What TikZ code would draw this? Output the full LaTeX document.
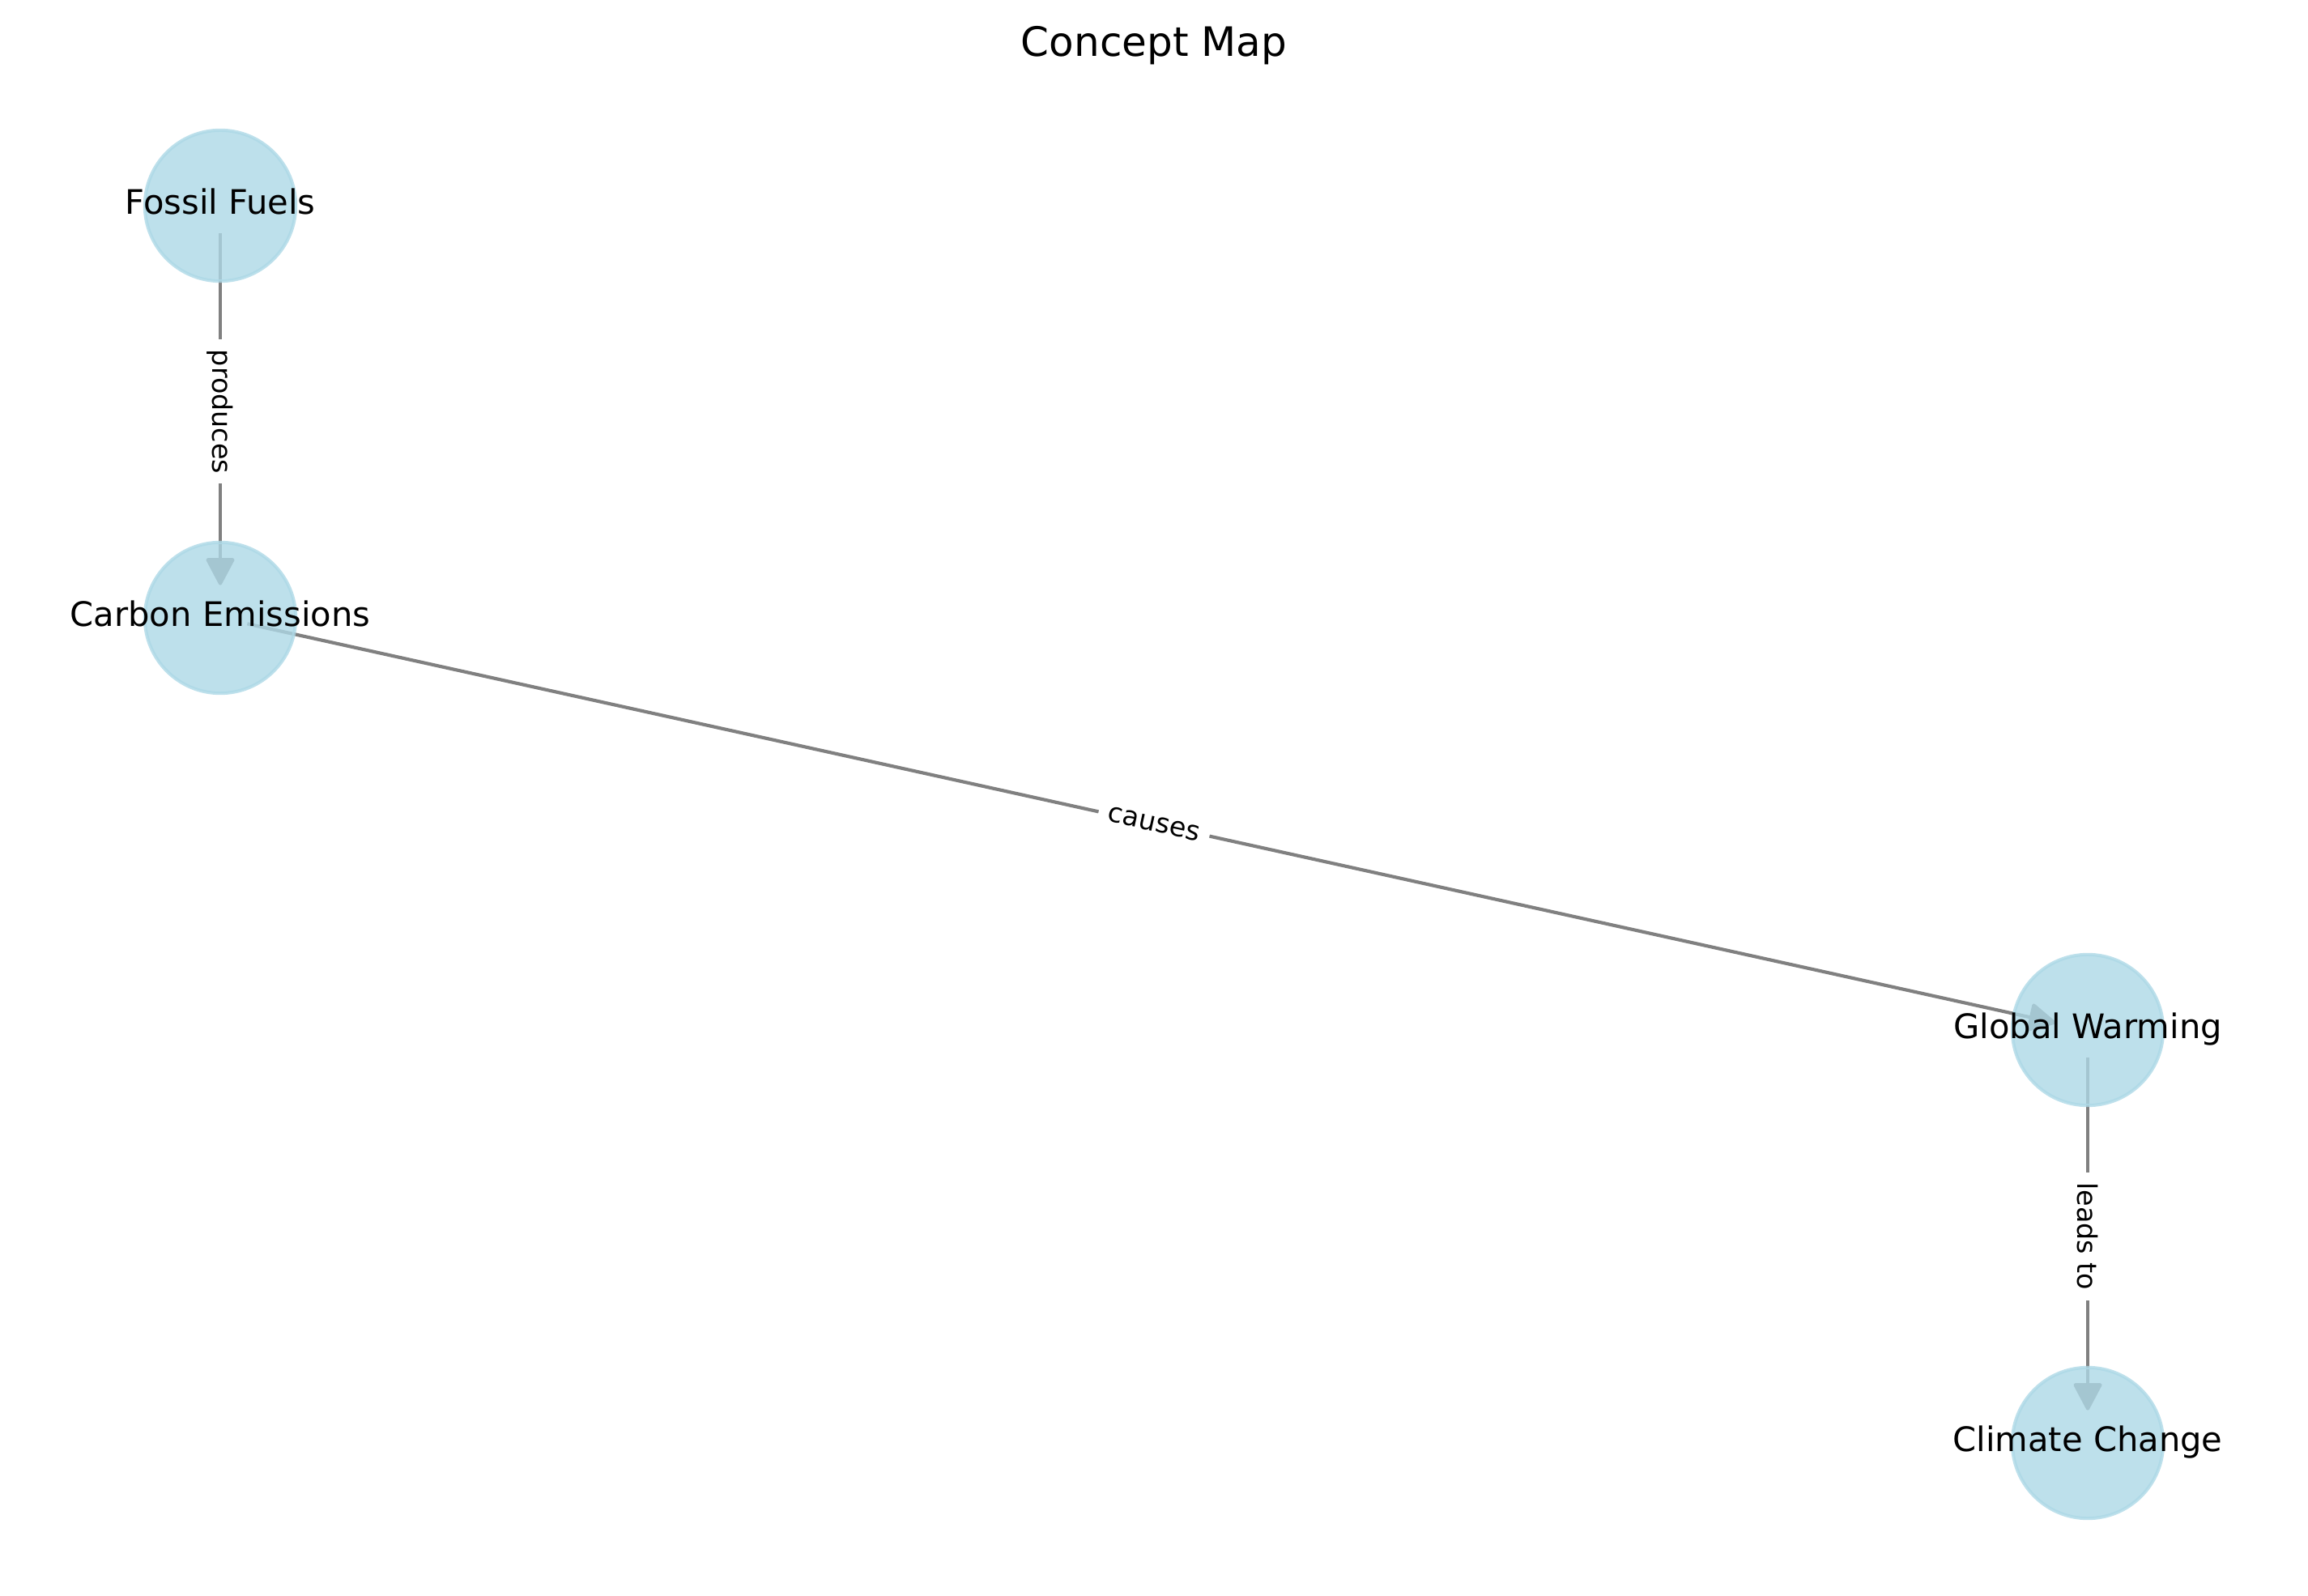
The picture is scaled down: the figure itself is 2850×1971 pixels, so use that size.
\documentclass[tikz,border=0pt]{standalone}
\usepackage{fontspec}
\setmainfont{DejaVu Sans}
\usetikzlibrary{arrows.meta,backgrounds}
\definecolor{lightblue}{RGB}{173,216,230}
\begin{document}
\begin{tikzpicture}[x=0.24pt,y=-0.24pt,
		concept node/.style = {circle, fill=lightblue, draw=lightblue, line width=1pt, opacity=0.8, text opacity=1,
			inner sep=0pt, minimum size=44.7pt, font=\fontsize{10}{12}\selectfont, text height=0.76em, text depth=0.24em},
		concept edge/.style = {draw=gray, line width=1pt, -{Triangle[length=8.6pt,width=8.8pt,round]}, shorten <=8.2pt, shorten >=9.7pt},
		edge label/.style = {font=\fontsize{8}{9.6}\selectfont, fill=white, text=black, inner sep=3pt, sloped, allow upside down}]
	\useasboundingbox (0,0) rectangle (2850,1971);
	
	\node[font=\fontsize{12}{14.4}\selectfont, anchor=base] (title) at (1425,70) {Concept Map};
	
	\node[concept node] (fossil) at (272,254) {\makebox[0pt]{Fossil Fuels}};
	\node[concept node] (carbon) at (272,763) {\makebox[0pt]{Carbon Emissions}};
	\node[concept node] (global) at (2578,1272) {\makebox[0pt]{Global Warming}};
	\node[concept node] (climate) at (2578,1782) {\makebox[0pt]{Climate Change}};
	
	\begin{scope}[on background layer]
		\path
		(fossil.center) edge[concept edge] node[edge label] {produces} (carbon.center)
		(carbon.center) edge[concept edge] node[edge label] {causes} (global.center)
		(global.center) edge[concept edge] node[edge label] {leads to} (climate.center);
	\end{scope}
\end{tikzpicture}
\end{document}
